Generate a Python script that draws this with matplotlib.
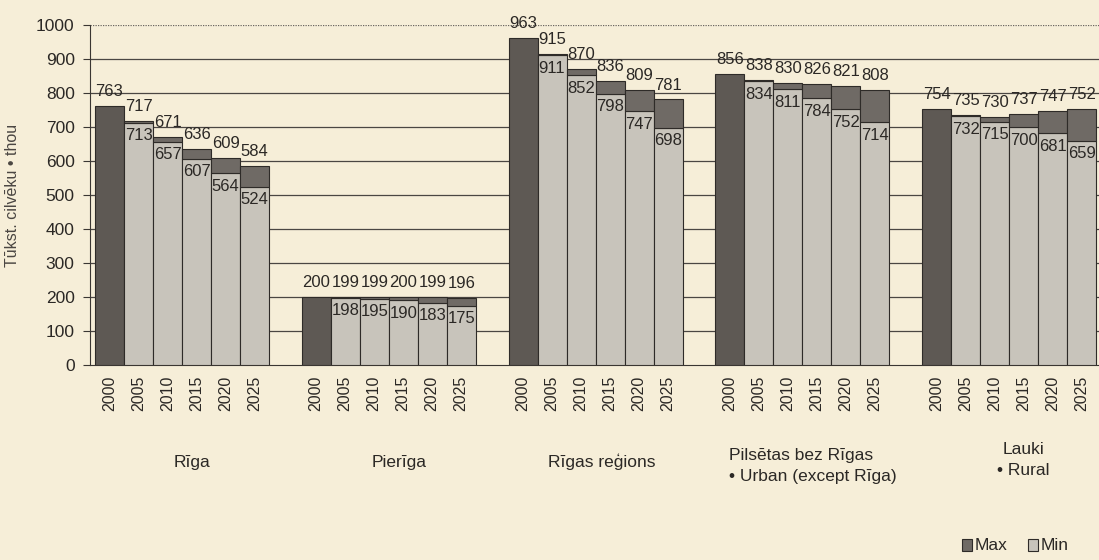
import matplotlib

matplotlib.use("Agg")

import matplotlib.pyplot as plt
from matplotlib.patches import Rectangle
from matplotlib.transforms import blended_transform_factory

# ---- data (thousand people) ----
groups = ["Rīga", "Pierīga", "Rīgas reģions",
          "Pilsētas bez Rīgas\n• Urban (except Rīga)", "Lauki\n• Rural"]
years = ["2000", "2005", "2010", "2015", "2020", "2025"]

riga_max = [763, 717, 671, 636, 609, 584]
riga_min = [763, 713, 657, 607, 564, 524]
pieriga_max = [200, 199, 199, 200, 199, 196]
pieriga_min = [200, 198, 195, 190, 183, 175]
region_max = [963, 915, 870, 836, 809, 781]
region_min = [963, 911, 852, 798, 747, 698]
urban_max = [856, 838, 830, 826, 821, 808]
urban_min = [856, 834, 811, 784, 752, 714]
rural_max = [754, 735, 730, 737, 747, 752]
rural_min = [754, 732, 715, 700, 681, 659]

series_max = [riga_max, pieriga_max, region_max, urban_max, rural_max]
series_min = [riga_min, pieriga_min, region_min, urban_min, rural_min]

BG = "#f6eed8"
DARK = "#5e5954"
MAXC = "#6f6a65"
LIGHT = "#c8c4bb"
EDGE = "#2e2b28"
TXT = "#2b2825"

plt.rcParams["font.family"] = ["Liberation Sans", "DejaVu Sans"]

fig = plt.figure(figsize=(10.99, 5.60), dpi=100, facecolor=BG)
ax = fig.add_axes([90 / 1099, 1 - 365 / 560, 1 - 90 / 1099, 340 / 560])
ax.set_facecolor(BG)

pitch = 7.13
width = 1.0

for g, (mx, mn) in enumerate(zip(series_max, series_min)):
    x0 = g * pitch
    for i, (hi, lo) in enumerate(zip(mx, mn)):
        x = x0 + i
        if i == 0:
            ax.bar(x, hi, width, color=DARK, edgecolor=EDGE, linewidth=0.8, zorder=3)
        else:
            ax.bar(x, lo, width, color=LIGHT, edgecolor=EDGE, linewidth=0.8, zorder=3)
            ax.bar(x, hi - lo, width, bottom=lo, color=MAXC, edgecolor=EDGE,
                   linewidth=0.8, zorder=3)
            ax.annotate(str(lo), (x - width / 2, lo), xytext=(0.5, -4),
                        textcoords="offset points", ha="left", va="top",
                        fontsize=12, color=TXT, zorder=5)
        ax.annotate(str(hi), (x - width / 2, hi), xytext=(0.5, 5),
                    textcoords="offset points", ha="left", va="bottom",
                    fontsize=12, color=TXT, zorder=5, annotation_clip=False)

# grid: solid lines 100..900, dotted at top
for v in range(100, 1000, 100):
    ax.axhline(v, color="#4a4642", linewidth=0.9, zorder=1)
ax.axhline(1000, color="#6a6560", linewidth=0.9, linestyle=(0, (1, 1)), zorder=1)

ax.set_ylim(0, 1000)
ax.set_xlim(-0.67, 34.12)
ax.set_yticks(range(0, 1001, 100))
ax.tick_params(axis="y", direction="out", length=5, width=0.8, colors="#3a3632",
               labelsize=12.5, labelcolor=TXT, pad=6)

xt = [g * pitch + i for g in range(len(groups)) for i in range(len(years))]
ax.set_xticks(xt)
ax.set_xticklabels(years * len(groups), rotation=90, fontsize=11.5, color=TXT)
ax.tick_params(axis="x", length=0, pad=8)

for side in ("top", "right"):
    ax.spines[side].set_visible(False)
ax.spines["left"].set_color("#3a3632")
ax.spines["bottom"].set_color("#3a3632")
ax.spines["left"].set_zorder(4)

ax.set_ylabel("Tūkst. cilvēku • thou", fontsize=11.5, color="#4a4642")
ax.yaxis.set_label_coords(-70 / 1009, 0.5)

# group captions under the year labels
trans = blended_transform_factory(ax.transData, fig.transFigure)
label_y = [462, 462, 462, 466, 460]
shift = [0.35, 0.35, 0.2, 0.35, 0.5]
for g, name in enumerate(groups):
    xc = g * pitch + 2.5 + shift[g]
    ax.text(xc, 1 - label_y[g] / 560, name, transform=trans, ha="center",
            va="center", fontsize=12.5, color=TXT, linespacing=1.55,
            multialignment="left" if g == 3 else "center")

# legend squares (bottom right)
for xs, lab, col in [(962, "Max", MAXC), (1028, "Min", LIGHT)]:
    fig.patches.append(Rectangle((xs / 1099, 1 - 551 / 560), 10 / 1099, 12 / 560,
                                 transform=fig.transFigure, facecolor=col,
                                 edgecolor=EDGE, linewidth=0.8))
    fig.text((xs + 13) / 1099, 1 - 545 / 560, lab, ha="left", va="center",
             fontsize=12.5, color=TXT)

fig.savefig("out.png", dpi=100, facecolor=BG)
